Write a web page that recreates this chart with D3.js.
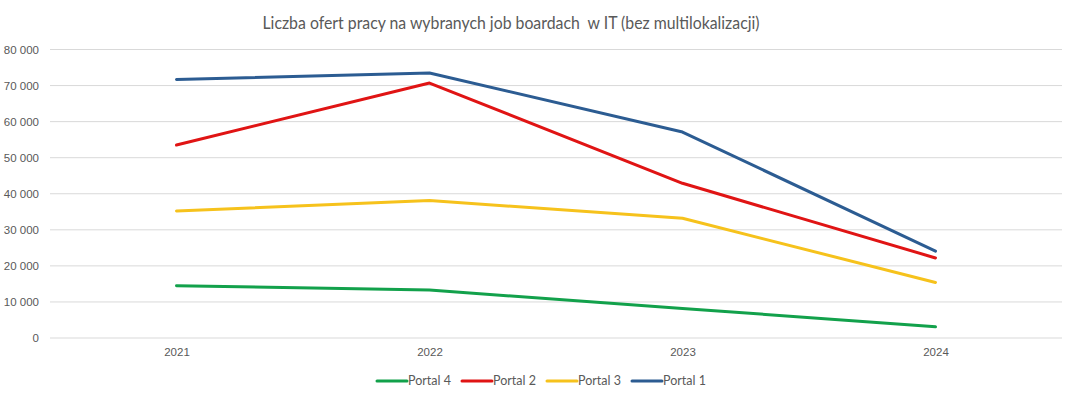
<!DOCTYPE html>
<html>
<head>
<meta charset="utf-8">
<script src="https://cdn.jsdelivr.net/npm/d3@7"></script>
<style>
  body { margin: 0; background: #fff; }
  svg { display: block; }
  text { font-family: Lato, "Open Sans", sans-serif; }
</style>
</head>
<body>
<svg id="chart" width="1071" height="398"></svg>
<script>
const years = ["2021", "2022", "2023", "2024"];
const portal1 = [71700, 73500, 57100, 24100];
const portal2 = [53500, 70700, 42900, 22200];
const portal3 = [35200, 38100, 33200, 15400];
const portal4 = [14500, 13300, 8200, 3100];
const yTicks = [0, 10000, 20000, 30000, 40000, 50000, 60000, 70000, 80000];
const title = "Liczba ofert pracy na wybranych job boardach\u00a0 w IT (bez multilokalizacji)";

const series = [
  { name: "Portal 4", values: portal4, color: "#12A14B" },
  { name: "Portal 2", values: portal2, color: "#E01414" },
  { name: "Portal 3", values: portal3, color: "#F6C21C" },
  { name: "Portal 1", values: portal1, color: "#2C5C92" }
];

const svg = d3.select("#chart");
const plotLeft = 50, plotRight = 1062, plotTop = 49.5, plotBottom = 338;

const x = d3.scalePoint().domain(years).range([plotLeft, plotRight]).padding(0.5);
const y = d3.scaleLinear().domain([0, 80000]).range([plotBottom, plotTop]);

// Gridlines
svg.append("g").selectAll("line").data(yTicks).join("line")
  .attr("x1", plotLeft).attr("x2", plotRight)
  .attr("y1", d => y(d)).attr("y2", d => y(d))
  .attr("stroke", "#d9d9d9").attr("stroke-width", 1);

const axisFont = '"Liberation Sans", Arial, sans-serif';

// Y axis labels
const yAxis = d3.axisLeft(y).tickValues(yTicks).tickSize(0).tickPadding(0)
  .tickFormat(d => d3.format(",")(d).replace(/,/g, " "));
const yg = svg.append("g").attr("transform", `translate(39,0)`).call(yAxis);
yg.select(".domain").remove();
yg.selectAll("text").attr("fill", "#595959").style("font-size", "11.5px").style("font-family", axisFont);

// X axis
const xAxis = d3.axisBottom(x).tickSize(0).tickPadding(10);
const xg = svg.append("g").attr("transform", `translate(0,${plotBottom})`).call(xAxis);
xg.select(".domain").remove();
xg.selectAll("text").attr("fill", "#595959").style("font-size", "11.5px").style("font-family", axisFont);

// Lines
const line = d3.line().x((d, i) => x(years[i])).y(d => y(d));
svg.append("g").selectAll("path").data(series.slice().reverse()).join("path")
  .attr("d", d => line(d.values))
  .attr("fill", "none")
  .attr("stroke", d => d.color)
  .attr("stroke-width", 3)
  .attr("stroke-linejoin", "round")
  .attr("stroke-linecap", "round");

// Title
svg.append("text")
  .attr("x", 511).attr("y", 29)
  .attr("text-anchor", "middle")
  .attr("fill", "#595959")
  .attr("textLength", 497)
  .attr("lengthAdjust", "spacingAndGlyphs")
  .style("font-size", "18px")
  .text(title);

// Legend
const lg = svg.append("g");
series.forEach((s, i) => {
  const x0 = 377 + i * 85;
  lg.append("line")
    .attr("x1", x0).attr("x2", x0 + 30)
    .attr("y1", 381).attr("y2", 381)
    .attr("stroke", s.color).attr("stroke-width", 3).attr("stroke-linecap", "round");
  lg.append("text")
    .attr("x", x0 + 31).attr("y", 381)
    .attr("dy", "0.35em")
    .attr("fill", "#595959")
    .style("font-size", "12.5px")
    .text(s.name);
});
</script>
</body>
</html>
